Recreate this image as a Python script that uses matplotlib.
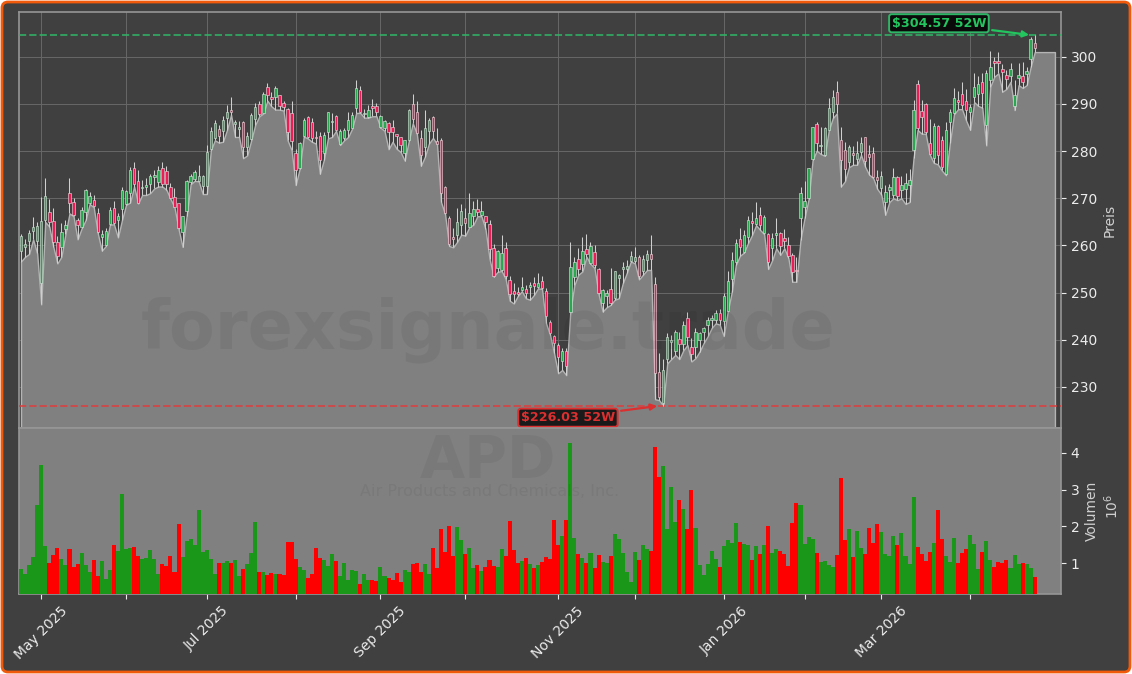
#!/usr/bin/env python3

import matplotlib
matplotlib.use("Agg")
import matplotlib.pyplot as plt
import numpy as np
from matplotlib.patches import FancyBboxPatch

opens = [
    258.9, 259.7, 260.9, 263.1, 260.9, 252.0, 265.4, 267.0, 265.1, 260.7,
    259.6, 263.4, 271.1, 269.2, 265.4, 264.0, 267.2, 269.1, 269.6, 266.8,
    261.9, 260.1, 264.5, 267.9, 265.3, 267.7, 268.8, 271.1, 276.4, 273.6,
    272.1, 272.3, 273.1, 274.5, 273.5, 276.5, 275.7, 272.5, 270.2, 268.9,
    262.9, 267.3, 273.4, 274.1, 273.7, 272.6, 272.6, 280.4, 282.7, 284.6,
    284.3, 287.0, 288.7, 285.7, 284.6, 286.1, 280.8, 282.5, 286.8, 290.1,
    288.1, 293.6, 291.4, 291.4, 291.9, 290.2, 289.0, 288.1, 279.5, 276.4,
    283.2, 287.3, 286.1, 283.0, 283.2, 279.5, 284.0, 286.1, 287.5, 281.6,
    282.7, 284.5, 285.0, 289.1, 292.9, 287.9, 287.2, 289.5, 289.5, 285.2,
    284.8, 285.9, 285.1, 283.6, 282.9, 279.5, 282.3, 289.9, 288.3, 282.8,
    280.8, 284.3, 287.2, 282.1, 282.3, 272.5, 265.8, 261.8, 262.3, 264.4,
    265.8, 264.0, 266.2, 267.8, 266.5, 266.2, 264.6, 259.4, 255.3, 254.7,
    259.4, 252.7, 250.4, 250.1, 250.6, 250.7, 251.1, 252.0, 251.3, 252.4,
    250.4, 243.7, 240.7, 238.8, 235.4, 237.6, 246.0, 253.3, 257.1, 256.1,
    259.2, 256.2, 258.6, 255.0, 247.8, 249.2, 250.7, 248.8, 253.0, 255.0,
    255.0, 256.8, 256.7, 257.5, 254.5, 257.0, 258.1, 251.8, 233.2, 226.7,
    235.9, 239.6, 237.7, 240.1, 239.1, 244.6, 238.4, 238.5, 240.0, 241.7,
    243.1, 244.1, 244.2, 245.6, 243.9, 246.2, 252.8, 256.4, 261.3, 258.7,
    261.9, 265.1, 264.5, 266.4, 262.6, 262.4, 259.5, 262.2, 262.6, 261.5,
    260.0, 257.9, 254.9, 265.8, 268.2, 270.0, 278.3, 285.8, 281.1, 279.2,
    284.5, 288.3, 292.5, 282.4, 280.2, 277.6, 279.7, 278.3, 279.8, 282.9,
    279.4, 279.6, 274.5, 272.2, 269.2, 271.7, 270.8, 274.5, 271.7, 272.0,
    272.8, 280.2, 294.2, 288.5, 290.0, 281.8, 278.6, 285.3, 282.4, 275.1,
    286.1, 288.1, 290.8, 292.2, 290.6, 288.2, 291.5, 292.1, 294.6, 285.6,
    295.1, 299.1, 299.1, 297.5, 296.1, 295.9, 289.6, 295.5, 295.9, 296.3, 299.5, 303.0,
]
highs = [
    262.4, 261.3, 263.3, 266.0, 265.0, 270.2, 274.4, 269.8, 267.9, 262.0,
    264.7, 265.5, 274.4, 270.0, 265.8, 268.2, 271.9, 271.4, 270.7, 267.9,
    263.3, 263.8, 268.1, 269.5, 266.9, 272.3, 271.8, 276.6, 277.6, 275.9,
    273.9, 274.4, 275.2, 276.1, 276.9, 277.6, 276.9, 273.2, 272.1, 269.1,
    266.3, 273.8, 275.2, 275.9, 277.1, 274.9, 281.4, 285.2, 286.6, 285.6,
    287.4, 289.7, 291.4, 286.6, 286.4, 286.3, 284.1, 288.1, 290.2, 290.7,
    292.6, 294.5, 292.6, 293.8, 292.0, 290.6, 289.1, 290.6, 280.5, 282.0,
    287.0, 287.5, 287.0, 284.3, 284.1, 284.1, 288.4, 288.1, 287.7, 284.7,
    284.8, 288.4, 288.4, 295.0, 293.8, 289.0, 289.7, 291.1, 290.2, 287.7,
    286.6, 286.1, 286.6, 283.7, 283.0, 282.4, 288.9, 292.2, 290.7, 284.5,
    288.8, 287.0, 287.4, 284.8, 282.7, 272.6, 266.2, 263.7, 268.0, 268.7,
    268.0, 271.1, 269.4, 269.8, 269.4, 266.3, 265.3, 260.3, 259.0, 262.3,
    260.8, 253.6, 252.0, 251.1, 253.4, 251.6, 252.3, 253.3, 254.1, 253.5,
    250.9, 244.2, 241.0, 239.3, 238.2, 238.2, 260.8, 257.6, 259.4, 261.7,
    262.4, 260.8, 260.1, 255.2, 250.7, 250.6, 255.2, 254.6, 253.9, 256.6,
    256.9, 258.9, 259.6, 258.0, 258.0, 259.1, 262.2, 253.4, 237.1, 235.9,
    241.4, 241.0, 242.1, 241.7, 243.9, 245.8, 240.3, 242.4, 241.7, 242.8,
    244.8, 245.3, 246.3, 246.5, 249.9, 254.5, 258.7, 261.3, 263.7, 263.3,
    266.3, 267.0, 269.3, 268.2, 266.5, 262.6, 262.7, 265.8, 262.9, 263.4,
    261.9, 258.4, 257.6, 272.4, 273.6, 276.5, 285.2, 286.1, 285.2, 285.2,
    291.2, 293.0, 294.9, 285.2, 282.0, 281.3, 281.1, 282.2, 283.1, 283.1,
    281.3, 280.8, 276.1, 275.7, 272.8, 273.1, 276.4, 274.7, 274.7, 275.4,
    276.3, 290.8, 295.1, 290.8, 290.3, 286.9, 285.9, 285.5, 283.2, 286.1,
    288.9, 293.3, 292.8, 294.7, 293.2, 290.0, 296.5, 295.9, 296.5, 297.1,
    301.3, 300.0, 301.0, 298.4, 297.1, 298.7, 295.1, 298.7, 298.9, 297.9, 304.2, 304.57,
]
lows = [
    256.6, 257.6, 258.2, 261.3, 258.3, 247.5, 265.0, 264.0, 259.7, 256.2,
    257.6, 262.4, 266.8, 266.2, 261.3, 263.6, 265.4, 268.8, 268.1, 262.6,
    258.9, 259.9, 264.4, 264.5, 261.7, 265.4, 268.6, 269.1, 272.5, 268.9,
    270.7, 270.7, 271.1, 272.1, 272.5, 272.5, 271.8, 269.9, 268.1, 263.5,
    259.7, 266.2, 273.0, 273.7, 273.6, 270.9, 270.9, 280.2, 282.3, 281.8,
    282.0, 284.5, 287.7, 283.0, 283.0, 278.5, 279.1, 282.3, 285.6, 287.4,
    288.0, 290.7, 289.5, 288.8, 288.8, 288.6, 282.3, 280.2, 272.8, 276.3,
    283.1, 282.7, 282.0, 281.6, 275.2, 278.2, 282.7, 283.0, 284.3, 281.3,
    282.3, 283.0, 284.8, 288.1, 288.1, 287.1, 287.1, 287.4, 287.4, 285.0,
    284.3, 280.4, 282.0, 280.5, 279.8, 278.0, 282.1, 285.9, 283.7, 276.9,
    278.8, 281.6, 282.8, 281.5, 269.2, 266.6, 259.9, 259.6, 260.8, 262.3,
    262.1, 263.9, 264.4, 266.2, 266.2, 263.5, 257.2, 253.4, 254.4, 254.6,
    252.9, 248.3, 247.7, 249.3, 250.3, 248.8, 248.5, 249.5, 250.9, 250.8,
    243.5, 241.0, 237.1, 232.9, 233.6, 232.5, 245.9, 251.6, 253.8, 254.5,
    257.6, 256.1, 255.2, 249.7, 246.0, 246.9, 247.4, 248.5, 248.8, 252.0,
    254.2, 256.6, 256.2, 252.8, 253.8, 254.8, 254.8, 227.4, 227.2, 226.03,
    235.0, 235.9, 236.8, 235.9, 237.8, 238.9, 235.4, 236.1, 237.5, 239.3,
    240.7, 242.5, 243.5, 243.2, 240.8, 246.1, 250.2, 255.9, 257.8, 258.5,
    260.5, 262.2, 264.3, 263.3, 262.4, 255.0, 256.9, 259.4, 258.0, 259.4,
    257.3, 252.3, 252.3, 261.2, 265.8, 269.8, 278.1, 280.1, 279.4, 279.0,
    284.4, 287.0, 288.0, 272.5, 273.6, 276.6, 277.1, 277.1, 279.2, 276.7,
    275.0, 274.3, 272.0, 270.8, 266.5, 269.2, 270.0, 269.6, 270.0, 268.8,
    269.2, 278.6, 284.5, 283.7, 283.7, 279.3, 277.5, 277.2, 275.9, 274.9,
    281.8, 287.8, 288.9, 288.9, 286.5, 284.5, 290.4, 289.6, 289.2, 281.2,
    293.7, 295.8, 296.5, 292.6, 293.2, 294.7, 288.7, 294.0, 293.4, 294.0, 297.9, 301.0,
]
closes = [
    262.0, 260.3, 262.6, 264.0, 264.1, 265.1, 270.4, 265.0, 260.7, 257.8,
    262.8, 264.3, 269.1, 266.5, 264.4, 267.5, 271.8, 270.4, 268.4, 262.9,
    262.4, 263.0, 267.5, 264.7, 266.2, 271.8, 271.6, 276.0, 273.0, 269.1,
    272.5, 272.8, 274.7, 274.9, 276.0, 273.0, 273.0, 270.0, 268.2, 263.6,
    266.2, 273.7, 274.8, 275.5, 274.8, 274.8, 279.8, 284.3, 285.9, 283.2,
    286.6, 288.3, 288.3, 286.1, 285.1, 280.8, 283.2, 287.7, 289.3, 287.9,
    292.2, 291.8, 291.1, 293.3, 289.5, 289.3, 284.1, 282.1, 276.1, 281.8,
    286.6, 283.0, 282.7, 282.7, 278.2, 283.4, 288.3, 286.4, 284.5, 284.3,
    284.4, 286.6, 287.7, 293.3, 288.3, 288.1, 288.7, 289.1, 288.3, 287.4,
    286.3, 284.1, 284.0, 283.2, 281.4, 282.3, 288.8, 286.8, 283.8, 279.1,
    284.8, 286.5, 284.3, 281.6, 271.1, 266.9, 260.3, 261.3, 264.9, 267.4,
    264.8, 266.9, 267.8, 267.2, 267.3, 264.9, 259.2, 253.6, 258.9, 258.3,
    253.6, 249.7, 249.7, 249.7, 251.1, 249.9, 251.6, 251.5, 252.0, 251.0,
    245.1, 241.4, 239.4, 236.3, 237.6, 234.4, 255.4, 256.5, 255.1, 258.8,
    258.1, 259.8, 255.9, 249.9, 250.6, 250.0, 247.8, 254.5, 253.8, 255.5,
    255.6, 257.7, 257.5, 253.6, 257.1, 258.1, 257.2, 232.9, 227.8, 233.6,
    240.5, 240.0, 241.7, 239.1, 243.1, 240.5, 236.9, 241.7, 241.4, 242.4,
    244.3, 244.6, 245.6, 244.3, 249.2, 252.4, 256.9, 260.5, 259.6, 262.2,
    265.5, 264.7, 265.8, 264.4, 266.0, 256.6, 261.6, 262.6, 259.8, 261.0,
    257.8, 254.3, 254.5, 271.1, 269.5, 276.4, 285.1, 281.8, 281.3, 284.9,
    289.1, 291.4, 289.9, 278.1, 276.2, 280.9, 279.1, 279.5, 281.7, 277.9,
    278.7, 274.6, 273.9, 274.7, 271.4, 272.3, 274.5, 270.5, 272.8, 273.2,
    273.9, 288.8, 284.9, 287.3, 284.1, 279.4, 285.3, 279.2, 276.7, 284.5,
    288.3, 291.2, 290.4, 289.8, 288.8, 289.3, 293.6, 294.3, 292.4, 296.5,
    297.8, 298.7, 298.7, 296.7, 295.4, 297.5, 292.0, 296.1, 294.7, 296.9, 303.8, 301.8,
]
volumes = [
    0.84, 0.70, 0.95, 1.15, 2.58, 3.67, 1.46, 1.00, 1.22, 1.41,
    1.11, 0.95, 1.38, 0.89, 0.97, 1.27, 0.95, 0.75, 1.08, 0.65,
    1.05, 0.56, 0.81, 1.49, 1.33, 2.88, 1.38, 1.41, 1.44, 1.19,
    1.11, 1.14, 1.35, 1.11, 0.70, 0.97, 0.92, 1.19, 0.75, 2.06,
    1.16, 1.61, 1.65, 1.49, 2.44, 1.30, 1.35, 1.12, 0.70, 0.99,
    1.00, 1.05, 0.99, 1.07, 0.64, 0.83, 0.97, 1.27, 2.12, 0.75,
    0.75, 0.68, 0.72, 0.71, 0.70, 0.68, 1.57, 1.57, 1.10, 0.89,
    0.82, 0.59, 0.70, 1.41, 1.13, 1.07, 0.92, 1.24, 1.05, 0.64,
    0.99, 0.55, 0.81, 0.78, 0.43, 0.69, 0.55, 0.55, 0.52, 0.89,
    0.64, 0.59, 0.55, 0.74, 0.47, 0.82, 0.75, 0.98, 1.01, 0.75,
    0.96, 0.69, 1.41, 0.87, 1.92, 1.29, 2.00, 1.20, 1.98, 1.63,
    1.24, 1.42, 0.86, 0.94, 0.78, 0.89, 1.09, 0.91, 0.89, 1.38,
    1.18, 2.14, 1.35, 1.00, 1.06, 1.13, 0.96, 0.87, 0.95, 1.04,
    1.17, 1.12, 2.17, 1.49, 1.74, 2.17, 4.26, 1.69, 1.25, 1.14,
    1.01, 1.28, 0.86, 1.22, 1.03, 0.99, 1.19, 1.79, 1.65, 1.26,
    0.76, 0.49, 1.30, 1.08, 1.49, 1.38, 1.34, 4.16, 3.35, 3.65,
    1.94, 3.08, 2.12, 2.72, 2.47, 1.93, 2.99, 1.95, 0.95, 0.67,
    0.97, 1.33, 1.11, 0.89, 1.45, 1.63, 1.55, 2.09, 1.57, 1.52,
    1.49, 1.08, 1.45, 1.25, 1.49, 2.01, 1.27, 1.38, 1.33, 1.25,
    0.92, 2.09, 2.64, 2.58, 1.52, 1.71, 1.65, 1.27, 1.03, 1.05,
    0.95, 0.89, 1.22, 3.32, 1.63, 1.93, 1.16, 1.87, 1.41, 1.25,
    1.95, 1.55, 2.06, 1.84, 1.24, 1.19, 1.73, 1.49, 1.82, 1.19,
    0.98, 2.80, 1.43, 1.24, 1.05, 1.30, 1.54, 2.44, 1.66, 1.19,
    1.03, 1.69, 1.01, 1.27, 1.38, 1.77, 1.51, 0.84, 1.30, 1.61,
    1.08, 0.89, 1.02, 1.00, 1.08, 0.87, 1.22, 0.96, 1.00, 0.96, 0.87, 0.62,
]
month_ticks = [5, 26, 46, 68, 89, 110, 133, 152, 174, 194, 213, 235]
month_labels = ["May 2025", "", "Jul 2025", "", "Sep 2025", "", "Nov 2025", "", "Jan 2026", "", "Mar 2026", ""]
price_ticks = [230, 240, 250, 260, 270, 280, 290, 300]
volume_ticks = [1, 2, 3, 4]
high_52w = 304.57
low_52w = 226.03
pad_bars = 5

BG = "#404040"
PANEL = "#808080"
WIDTH, HEIGHT = 1132, 674


def px_rect(left, top, right, bottom):
    return [left / WIDTH, 1 - bottom / HEIGHT, (right - left) / WIDTH, (bottom - top) / HEIGHT]


x = np.arange(len(closes))
o = np.array(opens)
c = np.array(closes)
up = c >= o

fig = plt.figure(figsize=(WIDTH / 100, HEIGHT / 100), dpi=100, facecolor="white")
fig.add_artist(FancyBboxPatch((2, 2), WIDTH - 4, HEIGHT - 4, boxstyle="round,pad=0,rounding_size=6",
                              transform=None, facecolor=BG, edgecolor="#f05a0a", linewidth=2.0, zorder=-1))

ax = fig.add_axes(px_rect(19, 12, 1061, 428), facecolor=BG)
ax_vol = fig.add_axes(px_rect(19, 428, 1061, 594), facecolor=PANEL)

ax.set_xlim(-0.5, 257.5)
ax.set_ylim(221.3, 309.5)
ax.set_axisbelow(True)
ax.grid(True, color="#686868", linewidth=0.7)

# area under the lows, padded flat past the last bar
fill_x = np.arange(len(lows) + pad_bars)
fill_y = lows + [lows[-1]] * pad_bars
ax.fill_between(fill_x, fill_y, 221.3, facecolor=PANEL, edgecolor="#b4b4b4", linewidth=1.0, zorder=2)

ax.axhline(high_52w, color="#2fb566", linestyle="--", linewidth=1.4, alpha=0.8, zorder=3)
ax.axhline(low_52w, color="#e03c3c", linestyle="--", linewidth=1.4, alpha=0.8, zorder=3)

ax.vlines(x, lows, highs, color="#cfcfcf", linewidth=0.75, zorder=4)
ax.bar(x[up], (c - o)[up], bottom=o[up], width=0.6, color="#2aa84f", edgecolor="#e8e8e8", linewidth=0.4, zorder=5)
ax.bar(x[~up], (o - c)[~up], bottom=c[~up], width=0.6, color="#ee1c56", edgecolor="#e8e8e8", linewidth=0.4, zorder=5)

ax.annotate("\\$304.57 52W", xy=(250.3, high_52w), xytext=(-93, 12), textcoords="offset pixels",
            ha="center", va="center", color="#22c55e", fontsize=9.2, fontweight="bold", zorder=7,
            bbox={"boxstyle": "round,pad=0.2", "facecolor": "#0a0a0a", "edgecolor": "#2fb566", "linewidth": 1.4},
            arrowprops={"arrowstyle": "-|>", "color": "#22c55e", "linewidth": 1.6})
ax.annotate("\\$226.03 52W", xy=(158.2, low_52w), xytext=(-92, -12), textcoords="offset pixels",
            ha="center", va="center", color="#dc2f2f", fontsize=9.2, fontweight="bold", zorder=7,
            bbox={"boxstyle": "round,pad=0.2", "facecolor": "#1a1a1a", "edgecolor": "#dc2f2f", "linewidth": 1.4},
            arrowprops={"arrowstyle": "-|>", "color": "#dc2f2f", "linewidth": 1.6})

ax.set_xticks(month_ticks)
ax.tick_params(axis="x", length=0, labelbottom=False)
ax.yaxis.tick_right()
ax.set_yticks(price_ticks)
ax.tick_params(axis="y", colors="#ececec", labelsize=10)
ax.set_ylabel("Preis", color="#d0d0d0", fontsize=10)
ax.yaxis.set_label_position("right")
ax.yaxis.set_label_coords((1103 - 19) / (1061 - 19), 0.5)

bar_colors = ["#1a9618" if u else "#ff0000" for u in up]
ax_vol.bar(x, volumes, width=1.0, color=bar_colors, zorder=3)
ax_vol.set_xlim(-0.5, 257.5)
ax_vol.set_ylim(0.155, 4.68)
ax_vol.yaxis.tick_right()
ax_vol.set_yticks(volume_ticks)
ax_vol.tick_params(axis="y", colors="#ececec", labelsize=10)
ax_vol.set_xticks(month_ticks)
ax_vol.set_xticklabels(month_labels, rotation=45, ha="center", color="#ececec", fontsize=10)
ax_vol.tick_params(axis="x", colors="#ececec", length=3.5)
ax_vol.set_ylabel("Volumen", color="#d0d0d0", fontsize=10)
ax_vol.yaxis.set_label_position("right")
ax_vol.yaxis.set_label_coords((1085 - 19) / (1061 - 19), 0.5)
fig.text(1112 / WIDTH, 1 - 506 / HEIGHT, "$10^{6}$", rotation=90, color="#d0d0d0", fontsize=10, ha="center", va="center")

for a in (ax, ax_vol):
    for spine in a.spines.values():
        spine.set_color("#969696")
        spine.set_linewidth(1.2)

fig.text(488 / WIDTH, 1 - 330 / HEIGHT, "forexsignale.trade", color="black", alpha=0.055, fontsize=48,
         fontweight="bold", ha="center", va="center", zorder=10)
fig.text(488 / WIDTH, 1 - 462 / HEIGHT, "APD", color="black", alpha=0.05, fontsize=42,
         fontweight="bold", ha="center", va="center", zorder=10)
fig.text(490 / WIDTH, 1 - 491 / HEIGHT, "Air Products and Chemicals, Inc.", color="black", alpha=0.05, fontsize=11.5,
         ha="center", va="center", zorder=10)

fig.savefig("out.png", dpi=100, facecolor=fig.get_facecolor())
plt.close(fig)
